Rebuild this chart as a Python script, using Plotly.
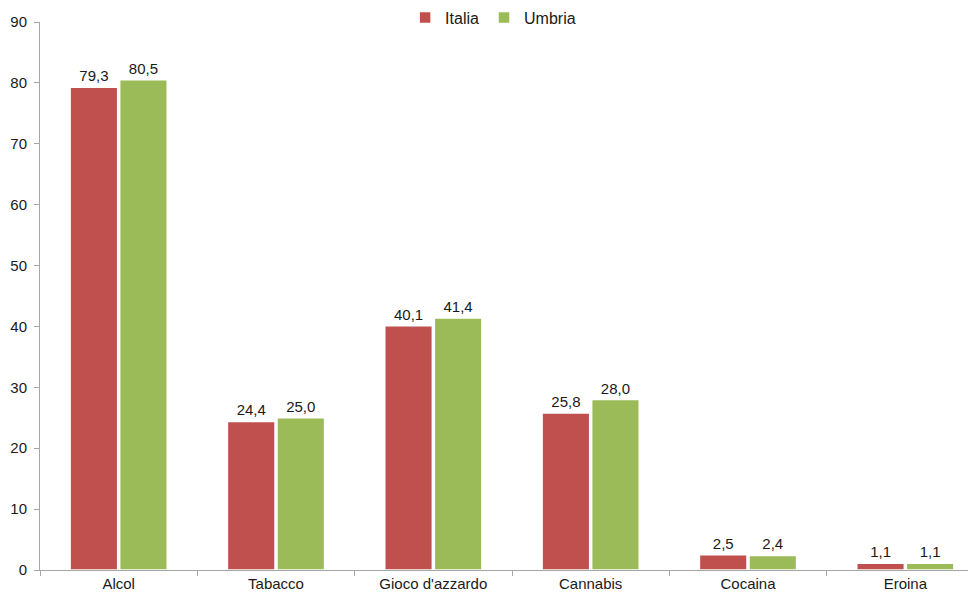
import plotly.graph_objects as go

categories = ["Alcol", "Tabacco", "Gioco d'azzardo", "Cannabis", "Cocaina", "Eroina"]
italia = [79.3, 24.4, 40.1, 25.8, 2.5, 1.1]
umbria = [80.5, 25.0, 41.4, 28.0, 2.4, 1.1]
y_ticks = [0, 10, 20, 30, 40, 50, 60, 70, 80, 90]

font_family = "Liberation Sans, Arial, sans-serif"

fig = go.Figure()
fig.add_trace(go.Bar(
    name="Italia", x=categories, y=italia,
    marker=dict(color="#C0504D", line=dict(color="white", width=1.5)),
    texttemplate="%{y:.1f}", textposition="outside", cliponaxis=False,
    textfont=dict(size=15, color="#1a1a1a", family=font_family),
))
fig.add_trace(go.Bar(
    name="Umbria", x=categories, y=umbria,
    marker=dict(color="#9BBB59", line=dict(color="white", width=1.5)),
    texttemplate="%{y:.1f}", textposition="outside", cliponaxis=False,
    textfont=dict(size=15, color="#1a1a1a", family=font_family),
))

# the page body has an 8px margin, so the plot area is placed to compensate
fig.update_layout(
    width=976, height=594,
    margin=dict(l=32, r=0, t=14, b=32, autoexpand=False),
    paper_bgcolor="white", plot_bgcolor="white",
    separators=",.",
    barmode="group", bargap=0.37, bargroupgap=0.04,
    font=dict(family=font_family, size=15, color="#1a1a1a"),
    showlegend=True,
    legend=dict(orientation="h", x=0.48, xanchor="center", y=1.008, yanchor="middle",
                yref="paper", font=dict(size=16, color="#1a1a1a"),
                itemwidth=30, tracegroupgap=0, traceorder="normal",
                bgcolor="rgba(0,0,0,0)"),
    xaxis=dict(
        showline=True, linecolor="#A6A6A6", linewidth=1,
        ticks="outside", tickson="boundaries", ticklen=5, tickcolor="#A6A6A6",
        tickfont=dict(size=15, color="#1a1a1a"), showgrid=False, automargin=False,
    ),
    yaxis=dict(
        range=[0, 90], tickvals=y_ticks,
        showline=True, linecolor="#A6A6A6", linewidth=1,
        ticks="outside", ticklen=5, tickcolor="#A6A6A6", ticklabelstandoff=4,
        tickfont=dict(size=15, color="#1a1a1a"), showgrid=False, zeroline=False,
        automargin=False,
    ),
)

fig.write_html("out.html")
